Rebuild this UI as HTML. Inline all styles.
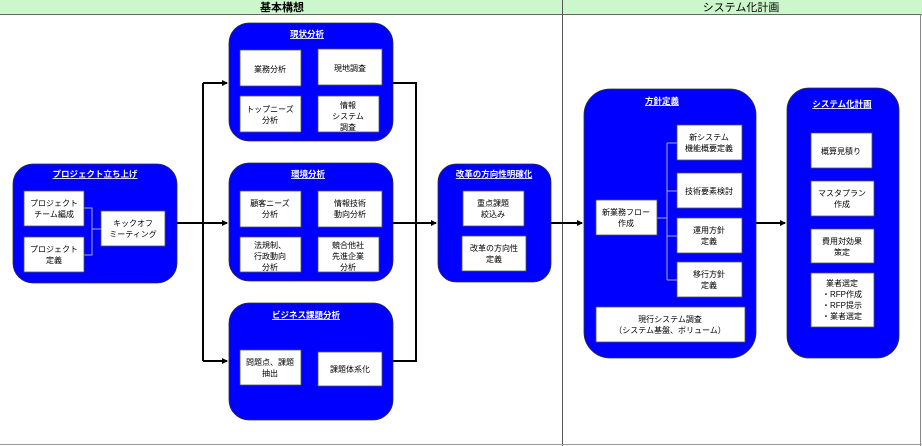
<!DOCTYPE html>
<html><head><meta charset="utf-8"><style>
html,body{margin:0;padding:0;background:#fff;}
svg{display:block;}
text{font-family:"Liberation Sans","Noto Sans CJK JP",sans-serif;font-size:8px;fill:#000;text-anchor:middle;}
.t{fill:#fff;font-size:8.5px;font-weight:bold;text-decoration:underline;}
.g{fill:#0000ff;stroke:#333;stroke-width:0.8;}
.w{fill:#fff;stroke:#555;stroke-width:0.8;}
.c{stroke:#000;stroke-width:2;fill:none;}
.l{stroke:#aab;stroke-width:1;fill:none;}
</style></head><body>
<svg width="922" height="446" viewBox="0 0 922 446" xmlns="http://www.w3.org/2000/svg">
<defs><marker id="a" markerWidth="6" markerHeight="6" refX="5" refY="3" orient="auto" markerUnits="userSpaceOnUse"><path d="M0,0 L6,3 L0,6 z" fill="#000"/></marker></defs>
<rect x="0" y="0" width="922" height="14" fill="#ccf7cc"/>
<line x1="0" y1="14.5" x2="922" y2="14.5" stroke="#666" stroke-width="1"/>
<line x1="562.5" y1="0" x2="562.5" y2="446" stroke="#555" stroke-width="1"/>
<line x1="920.5" y1="14" x2="920.5" y2="446" stroke="#888" stroke-width="1"/>
<line x1="0" y1="444.5" x2="922" y2="444.5" stroke="#999" stroke-width="1"/>
<text x="282" y="11" style="font-size:11px;font-weight:bold">基本構想</text>
<text x="741" y="11" style="font-size:11px">システム化計画</text>

<!-- connectors -->
<path class="c" d="M177,223 H227" marker-end="url(#a)"/>
<path class="c" d="M203,83 V361"/>
<path class="c" d="M203,83 H227" marker-end="url(#a)"/>
<path class="c" d="M203,361 H227" marker-end="url(#a)"/>
<path class="c" d="M393,83 H416 V361 H393"/>
<path class="c" d="M393,223 H436" marker-end="url(#a)"/>
<path class="c" d="M551,223 H582" marker-end="url(#a)"/>
<path class="c" d="M756,223 H785" marker-end="url(#a)"/>

<!-- プロジェクト立ち上げ -->
<rect class="g" x="13" y="164" width="164" height="119" rx="20"/>
<text class="t" x="95" y="177">プロジェクト立ち上げ</text>
<path class="l" d="M84,208 H92 V255 H84 M92,229 H101"/>
<rect class="w" x="24" y="191" width="60" height="35"/>
<text x="54" y="206">プロジェクト</text><text x="54" y="217">チーム編成</text>
<rect class="w" x="24" y="237" width="60" height="35"/>
<text x="54" y="252">プロジェクト</text><text x="54" y="263">定義</text>
<rect class="w" x="101" y="211" width="64" height="35"/>
<text x="133" y="226">キックオフ</text><text x="133" y="237">ミーティング</text>

<!-- 現状分析 -->
<rect class="g" x="229" y="23" width="164" height="118" rx="20"/>
<text class="t" x="307" y="37">現状分析</text>
<rect class="w" x="240" y="50" width="61" height="36"/><text x="270" y="72">業務分析</text>
<rect class="w" x="318" y="49" width="64" height="36"/><text x="350" y="71">現地調査</text>
<rect class="w" x="240" y="96" width="61" height="36"/><text x="270" y="112">トップニーズ</text><text x="270" y="123">分析</text>
<rect class="w" x="318" y="96" width="61" height="36"/><text x="348" y="108">情報</text><text x="348" y="119">システム</text><text x="348" y="130">調査</text>

<!-- 環境分析 -->
<rect class="g" x="229" y="163" width="164" height="118" rx="20"/>
<text class="t" x="308" y="177">環境分析</text>
<rect class="w" x="240" y="191" width="61" height="36"/><text x="270" y="206">顧客ニーズ</text><text x="270" y="217">分析</text>
<rect class="w" x="318" y="191" width="64" height="36"/><text x="350" y="206">情報技術</text><text x="350" y="217">動向分析</text>
<rect class="w" x="240" y="237" width="61" height="35"/><text x="270" y="248">法規制、</text><text x="270" y="259">行政動向</text><text x="270" y="270">分析</text>
<rect class="w" x="318" y="237" width="61" height="35"/><text x="348" y="248">競合他社</text><text x="348" y="259">先進企業</text><text x="348" y="270">分析</text>

<!-- ビジネス課題分析 -->
<rect class="g" x="229" y="303" width="164" height="117" rx="20"/>
<text class="t" x="306" y="318">ビジネス課題分析</text>
<rect class="w" x="240" y="350" width="61" height="35"/><text x="270" y="365">問題点、課題</text><text x="270" y="376">抽出</text>
<rect class="w" x="318" y="352" width="64" height="34"/><text x="350" y="372">課題体系化</text>

<!-- 改革の方向性明確化 -->
<rect class="g" x="438" y="164" width="113" height="118" rx="18"/>
<text class="t" x="494" y="177">改革の方向性明確化</text>
<rect class="w" x="463" y="191" width="61" height="35"/><text x="493" y="206">重点課題</text><text x="493" y="217">絞込み</text>
<rect class="w" x="462" y="236" width="64" height="35"/><text x="494" y="251">改革の方向性</text><text x="494" y="262">定義</text>

<!-- 方針定義 -->
<rect class="g" x="584" y="89" width="172" height="269" rx="26"/>
<text class="t" x="662" y="104">方針定義</text>
<path class="l" d="M657,218 H667 M667,143 V280 M667,143 H677 M667,191 H677 M667,236 H677 M667,280 H677"/>
<rect class="w" x="596" y="200" width="61" height="35"/><text x="626" y="215">新業務フロー</text><text x="626" y="226">作成</text>
<rect class="w" x="677" y="125" width="65" height="35"/><text x="709" y="140">新システム</text><text x="709" y="151">機能概要定義</text>
<rect class="w" x="677" y="173" width="65" height="35"/><text x="709" y="194">技術要素検討</text>
<rect class="w" x="677" y="218" width="65" height="35"/><text x="709" y="233">運用方針</text><text x="709" y="244">定義</text>
<rect class="w" x="677" y="262" width="65" height="35"/><text x="709" y="277">移行方針</text><text x="709" y="288">定義</text>
<rect class="w" x="596" y="307" width="149" height="35"/><text x="670" y="322">現行システム調査</text><text x="670" y="333">（システム基盤、ボリューム）</text>

<!-- システム化計画 -->
<rect class="g" x="787" y="88" width="112" height="270" rx="22"/>
<text class="t" x="842" y="107">システム化計画</text>
<rect class="w" x="811" y="133" width="61" height="35"/><text x="841" y="154">概算見積り</text>
<rect class="w" x="811" y="181" width="63" height="35"/><text x="842" y="196">マスタプラン</text><text x="842" y="207">作成</text>
<rect class="w" x="811" y="229" width="63" height="34"/><text x="842" y="244">費用対効果</text><text x="842" y="255">策定</text>
<rect class="w" x="811" y="273" width="63" height="54"/><text x="842" y="286">業者選定</text><text x="842" y="297">・RFP作成</text><text x="842" y="308">・RFP提示</text><text x="842" y="319">・業者選定</text>
</svg>
</body></html>
